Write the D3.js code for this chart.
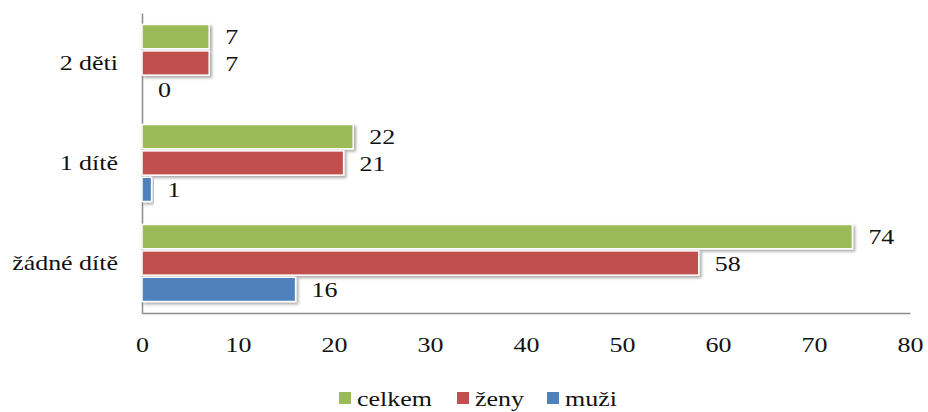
<!DOCTYPE html>
<html>
<head>
<meta charset="utf-8">
<script src="https://cdn.jsdelivr.net/npm/d3@7"></script>
<style>
  body { margin: 0; background: #fff; }
</style>
</head>
<body>
<div id="chart"></div>
<script>
// data
var categories = ["2 děti", "1 dítě", "žádné dítě"];
var seriesNames = ["celkem", "ženy", "muži"];
var celkem = [7, 22, 74];
var zeny = [7, 21, 58];
var muzi = [0, 1, 16];
var xTicks = [0, 10, 20, 30, 40, 50, 60, 70, 80];
var colors = ["#9bbb59", "#c0504d", "#4f81bd"];

var width = 928, height = 412;
var plotLeft = 142, plotRight = 910, plotTop = 13, plotBottom = 313;
var stretch = 1.18; // text in the picture is a bit wide
var font = "'Liberation Serif', 'Times New Roman', serif";

var svg = d3.select("#chart")
  .append("svg")
    .attr("width", width)
    .attr("height", height);

// shadow under the bars
var f = svg.append("defs").append("filter")
    .attr("id", "shadow")
    .attr("x", "-10%").attr("y", "-30%")
    .attr("width", "130%").attr("height", "180%");
f.append("feDropShadow")
    .attr("dx", 2).attr("dy", 2)
    .attr("stdDeviation", 1.5)
    .attr("flood-color", "#000")
    .attr("flood-opacity", 0.35);

var x = d3.scaleLinear().domain([0, 80]).range([plotLeft, plotRight]);
var y = d3.scaleBand().domain(categories).range([plotTop, plotBottom])
    .paddingInner(0.23).paddingOuter(0.115);
var ySub = d3.scaleBand().domain(seriesNames).range([0, y.bandwidth()])
    .paddingInner(0.08);

var rows = categories.map(function(c, i) {
  return {cat: c, values: [celkem[i], zeny[i], muzi[i]]};
});

// axes
var xAxis = svg.append("g")
  .attr("transform", "translate(0," + plotBottom + ")")
  .call(d3.axisBottom(x).tickValues(xTicks).tickSize(0).tickPadding(23));
xAxis.select(".domain").attr("stroke", "#8c8c8c").attr("stroke-width", 1.5);

var yAxis = svg.append("g")
  .attr("transform", "translate(" + plotLeft + ",0)")
  .call(d3.axisLeft(y).tickSize(0).tickPadding(24));
yAxis.select(".domain").attr("stroke", "#8c8c8c").attr("stroke-width", 1.5);

// bars
var groups = svg.selectAll(".grp")
  .data(rows)
  .enter().append("g")
    .attr("class", "grp")
    .attr("transform", function(d) { return "translate(0," + y(d.cat) + ")"; });

groups.selectAll("rect")
  .data(function(d) {
    return d.values.map(function(v, j) { return {v: v, s: seriesNames[j], j: j}; })
      .filter(function(e) { return e.v > 0; });
  })
  .enter().append("rect")
    .attr("x", x(0))
    .attr("y", function(d) { return ySub(d.s); })
    .attr("width", function(d) { return x(d.v) - x(0); })
    .attr("height", ySub.bandwidth())
    .attr("fill", function(d) { return colors[d.j]; })
    .attr("stroke", "#fff")
    .attr("stroke-width", 1.5)
    .attr("filter", "url(#shadow)");

// value labels
groups.selectAll(".val")
  .data(function(d) { return d.values.map(function(v, j) { return {v: v, s: seriesNames[j]}; }); })
  .enter().append("text")
    .attr("class", "val")
    .attr("x", function(d) { return x(d.v) + 16; })
    .attr("y", function(d) { return ySub(d.s) + ySub.bandwidth() / 2; })
    .attr("dy", "0.35em")
    .text(function(d) { return d.v; });

// legend
var legendX = [339, 457, 547];
var legend = svg.selectAll(".leg")
  .data(seriesNames)
  .enter().append("g")
    .attr("class", "leg")
    .attr("transform", function(d, i) { return "translate(" + legendX[i] + ",392)"; });
legend.append("rect")
    .attr("width", 12).attr("height", 12)
    .attr("fill", function(d, i) { return colors[i]; });
legend.append("text")
    .attr("x", 18).attr("y", 14)
    .text(function(d) { return d; });

// same font everywhere, widened around its anchor like in the picture
svg.selectAll("text")
    .style("font-family", font)
    .style("font-size", "22px")
    .attr("fill", "#111")
  .each(function() {
    var ax = +d3.select(this).attr("x") || 0;
    d3.select(this).attr("transform",
      "translate(" + ax + ",0) scale(" + stretch + ",1) translate(" + (-ax) + ",0)");
  });
</script>
</body>
</html>
